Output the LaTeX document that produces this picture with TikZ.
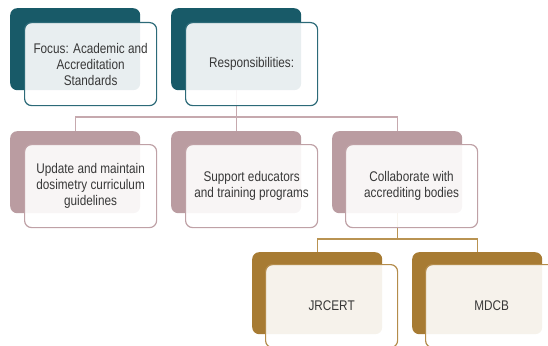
\documentclass[tikz,border=0pt]{standalone}
\usepackage{fontspec}
\setmainfont[FakeStretch=0.84]{Liberation Sans}
\definecolor{tealdk}{HTML}{185A68}
\definecolor{tealln}{HTML}{2C6A78}
\definecolor{mauve}{HTML}{BA9CA1}
\definecolor{mauveln}{HTML}{BFA1A6}
\definecolor{mauvecn}{HTML}{C6A9AE}
\definecolor{gold}{HTML}{A77B33}
\definecolor{goldln}{HTML}{B48C4B}
\definecolor{goldcn}{HTML}{B99352}
\definecolor{txt}{HTML}{383838}
\tikzset{
  backbox/.style={draw=none, fill=#1, rounded corners=7pt, minimum width=130pt, minimum height=82pt, anchor=north west, inner sep=0pt},
  frontbox/.style={draw=#1, line width=1.2pt, fill=white, fill opacity=0.9, text opacity=1, rounded corners=7pt, minimum width=132pt, minimum height=83pt, anchor=north west, inner sep=2pt, align=center, text=txt, font=\fontsize{14}{16}\selectfont},
  conn/.style={draw=#1, line width=1.2pt}
}
\begin{document}
\begin{tikzpicture}[x=1pt,y=1pt]
\useasboundingbox (0,0) rectangle (548,-345);
\clip (0,0) rectangle (548,-345);
% junction rows
\coordinate (j1) at (0,-117);
\coordinate (j2) at (0,-239);
% back boxes
\node[backbox=tealdk] (b1) at (10,-8) {};
\node[backbox=tealdk] (b2) at (171,-8) {};
\node[backbox=mauve] (b3) at (10,-131) {};
\node[backbox=mauve] (b4) at (171,-131) {};
\node[backbox=mauve] (b5) at (332,-131) {};
\node[backbox=gold] (b6) at (252,-252) {};
\node[backbox=gold] (b7) at (412,-252) {};
% connectors
\draw[conn=mauvecn] (b2.south) -- (b2.south |- j1);
\draw[conn=mauvecn] (b3.north) |- (b4.north |- j1) -| (b5.north);
\draw[conn=mauvecn] (b4.north) -- (b4.north |- j1);
\draw[conn=goldcn] (b5.south) -- (b5.south |- j2);
\draw[conn=goldcn] (b6.north) |- (b5.south |- j2) -| (b7.north);
% front boxes
\node[frontbox=tealln] (f1) at (24,-22) {Focus: Academic and\\Accreditation\\Standards};
\node[frontbox=tealln] (f2) at (185,-22) {Responsibilities:};
\node[frontbox=mauveln] (f3) at (24,-144) {Update and maintain\\dosimetry curriculum\\guidelines};
\node[frontbox=mauveln] (f4) at (185,-144) {Support educators\\and training programs};
\node[frontbox=mauveln] (f5) at (345,-144) {Collaborate with\\accrediting bodies};
\node[frontbox=goldln] (f6) at (265,-264) {JRCERT};
\node[frontbox=goldln] (f7) at (425,-264) {MDCB};
\end{tikzpicture}
\end{document}
